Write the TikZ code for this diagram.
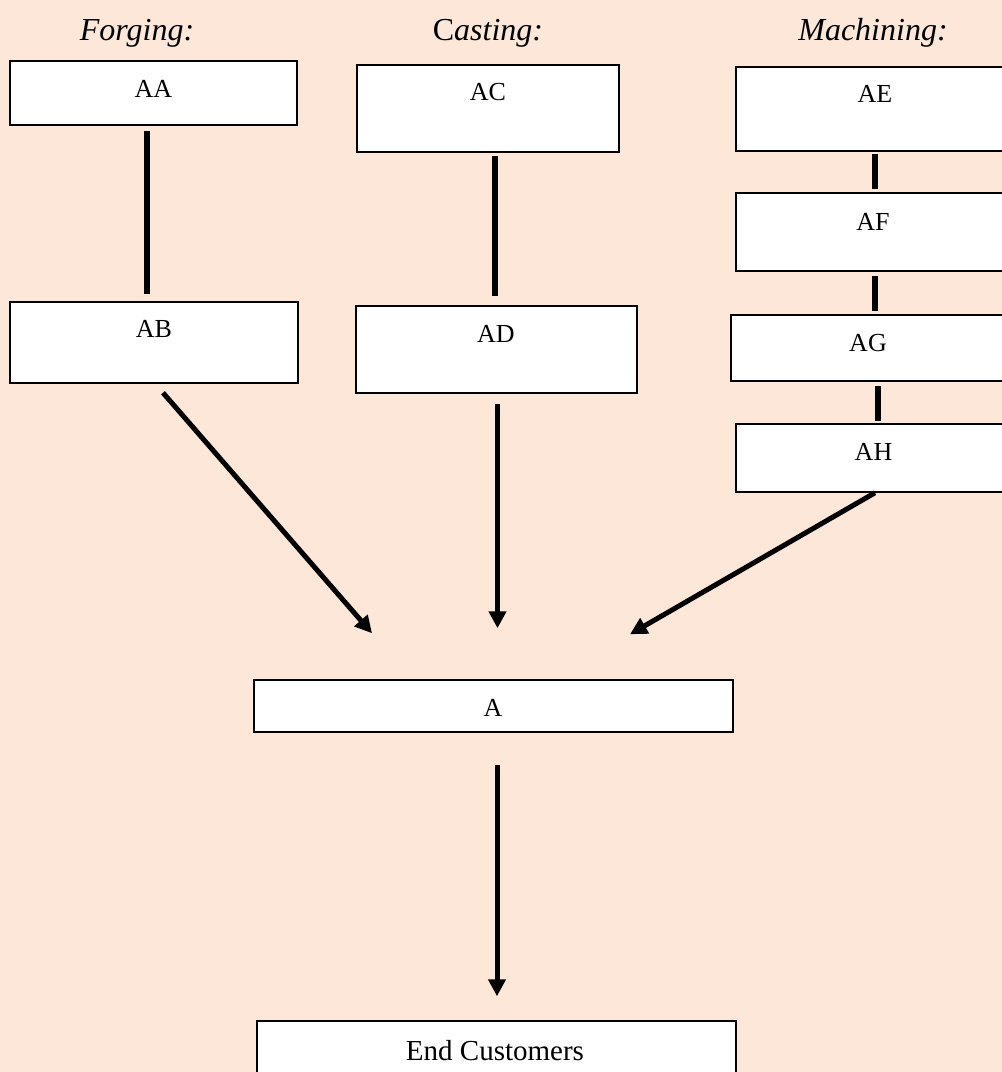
\documentclass[tikz,border=0pt]{standalone}
\usepackage{fontspec}
\setmainfont{Liberation Serif}
\usetikzlibrary{arrows.meta}
\definecolor{peach}{RGB}{252,231,217}
\tikzset{
  box/.style={draw=black, line width=1.5pt, fill=white, inner sep=0pt, rectangle},
  lbl/.style={anchor=base, inner sep=0pt, font=\fontsize{26}{30}\selectfont},
  bigl/.style={anchor=base, inner sep=0pt, font=\fontsize{29}{34}\selectfont},
  ttl/.style={anchor=base, inner sep=0pt, font=\fontsize{32}{36}\selectfont\itshape},
  conn/.style={line width=5.5pt},
  arr/.style={line width=5pt, -{Triangle[length=17pt,width=17pt]}}
}
\begin{document}
\begin{tikzpicture}[x=1pt,y=-1pt]
\useasboundingbox (0,0) rectangle (1002,1072);
\fill[peach] (0,0) rectangle (1002,1072);
\clip (0,0) rectangle (1002,1072);
% titles
\node[ttl] (tF) at (137,40) {Forging:};
\node[ttl] (tC) at (488,40) {{\upshape C}asting:};
\node[ttl] (tM) at (873,40) {Machining:};
% boxes
\node[box, minimum width=287pt, minimum height=64pt] (AA) at (153.5,93) {};
\node[box, minimum width=288pt, minimum height=81pt] (AB) at (154,342.5) {};
\node[box, minimum width=262pt, minimum height=87pt] (AC) at (488,108.5) {};
\node[box, minimum width=281pt, minimum height=87pt] (AD) at (496.5,349.5) {};
\node[box, minimum width=274pt, minimum height=84pt] (AE) at (873,109) {};
\node[box, minimum width=274pt, minimum height=78pt] (AF) at (873,232) {};
\node[box, minimum width=279pt, minimum height=66pt] (AG) at (870.5,348) {};
\node[box, minimum width=274pt, minimum height=68pt] (AH) at (873,458) {};
\node[box, minimum width=479pt, minimum height=52pt] (A) at (493.5,706) {};
\node[box, minimum width=479pt, minimum height=64pt] (EC) at (496.5,1053) {};
% labels
\node[lbl] (AAt) at (153.5,97) {AA};
\node[lbl] (ABt) at (154,337) {AB};
\node[lbl] (ACt) at (488,100) {AC};
\node[lbl] (ADt) at (496,342) {AD};
\node[lbl] (AEt) at (875,102) {AE};
\node[lbl] (AFt) at (873,230) {AF};
\node[lbl] (AGt) at (868,351) {AG};
\node[lbl] (AHt) at (873.5,460) {AH};
\node[lbl] (At) at (493,716) {A};
\node[bigl] (ECt) at (495,1060) {End Customers};
% connectors
\draw[conn, shorten <=5pt, shorten >=7pt] ([xshift=-6.5pt]AA.south) -- ([xshift=-7pt]AB.north);
\draw[conn, shorten <=3pt, shorten >=9pt] ([xshift=7pt]AC.south) -- ([xshift=-1.5pt]AD.north);
\draw[conn, shorten <=2pt, shorten >=3pt] ([xshift=2pt]AE.south) -- ([xshift=2pt]AF.north);
\draw[conn, shorten <=4pt, shorten >=3pt] ([xshift=2pt]AF.south) -- ([xshift=4.5pt]AG.north);
\draw[conn, shorten <=4pt, shorten >=2pt] ([xshift=7.5pt]AG.south) -- ([xshift=5pt]AH.north);
% arrows
\draw[arr] ([shift={(9pt,-9pt)}]AB.south) -- ([shift={(-121.5pt,46pt)}]A.north);
\draw[arr, shorten <=10pt] ([xshift=1pt]AD.south) -- ([shift={(4pt,51pt)}]A.north);
\draw[arr] ([xshift=2pt]AH.south) -- ([shift={(136.5pt,45pt)}]A.north);
\draw[arr, shorten <=32pt, shorten >=24pt] ([xshift=3.5pt]A.south) -- ([xshift=0.5pt]EC.north);
\end{tikzpicture}
\end{document}
